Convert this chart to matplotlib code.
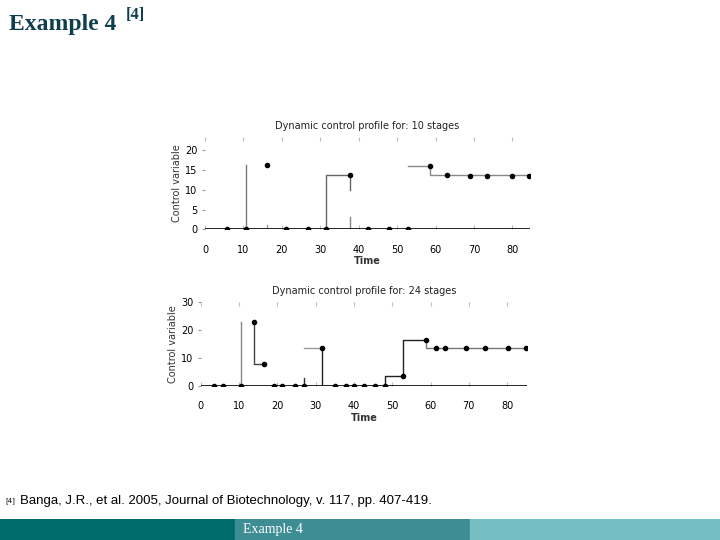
import matplotlib
matplotlib.use("Agg")
import matplotlib.pyplot as plt

# top panel: 10 stages
t1 = [5.8, 10.6, 16.2, 21.0, 26.8, 31.4, 37.7, 42.3, 48.0, 52.8, 58.6, 63.1, 69.0, 73.5, 79.8, 84.2]
u1 = [0, 0, 16.3, 0, 0, 0, 13.7, 0, 0, 0, 16.0, 13.8, 13.5, 13.5, 13.5, 13.5]
# profile segments (x list, y list, colour)
lines1 = [
    ([10.6, 10.6], [0, 16.3], "#777777"),
    ([16.2, 16.2], [0, 1.2], "#999999"),
    ([31.4, 31.4, 37.7, 37.7], [0, 13.7, 13.7, 10.0], "#666666"),
    ([37.7, 37.7], [0, 3.0], "#888888"),
    ([52.8, 58.6, 58.6, 84.2], [16.0, 16.0, 13.8, 13.8], "#888888"),
]

# bottom panel: 24 stages
t2 = [3.4, 5.8, 10.6, 13.9, 16.5, 19.0, 21.2, 24.5, 26.9, 31.6, 35.0, 37.8, 40.1, 42.5,
      45.6, 48.2, 52.9, 58.9, 61.4, 63.7, 69.3, 74.1, 80.2, 84.8]
u2 = [0, 0, 0, 23.0, 7.7, 0, 0, 0, 0, 13.7, 0, 0, 0, 0,
      0, 0, 3.6, 16.3, 13.7, 13.7, 13.7, 13.7, 13.7, 13.7]
lines2 = [
    ([10.6, 10.6], [0, 23.0], "#888888"),
    ([13.9, 13.9, 16.5], [23.0, 8.0, 8.0], "#444444"),
    ([26.9, 26.9], [0, 3.0], "#333333"),
    ([26.9, 31.6], [13.7, 13.7], "#999999"),
    ([31.6, 31.6], [0, 13.7], "#222222"),
    ([48.2, 48.2, 52.9, 52.9, 58.9], [0, 3.6, 3.6, 16.3, 16.3], "#222222"),
    ([58.9, 58.9, 84.8], [16.3, 13.7, 13.7], "#777777"),
]

fig = plt.figure(figsize=(7.2, 5.4), dpi=100)
fig.patch.set_facecolor("white")


def panel(rect, t, u, lines, xmax, ymax, yticks, title):
    ax = fig.add_axes(rect)
    for xs, ys, c in lines:
        ax.plot(xs, ys, color=c, lw=1)
    ax.axhline(0, color="black", lw=1.2)
    ax.plot(t, u, "o", color="black", ms=3)
    ax.set_xlim(0, xmax)
    ax.set_ylim(0, ymax)
    for s in ax.spines.values():
        s.set_visible(False)
    ax.set_xticks(range(0, 90, 10))
    ax.set_yticks(yticks)
    ax.tick_params(axis="x", length=0, labelsize=7, pad=11)
    ax.tick_params(axis="y", length=2, labelsize=7, color="#999999")
    ax.tick_params(axis="x", which="both", top=True, direction="in", length=3, color="#bbbbbb")
    ax.set_xlabel("Time", fontsize=7, labelpad=1, fontweight="bold", color="#333333")
    ax.set_ylabel("Control variable", fontsize=7, labelpad=2, color="#333333")
    ax.set_title(title, fontsize=7, pad=6, color="#222222")
    return ax


panel([0.2847, 0.5754, 0.451, 0.171], t1, u1, lines1, 84.5, 23.4,
      [0, 5, 10, 15, 20], "Dynamic control profile for: 10 stages")
panel([0.279, 0.285, 0.453, 0.156], t2, u2, lines2, 85.2, 30,
      [0, 10, 20, 30], "Dynamic control profile for: 24 stages")

fig.text(0.012, 0.955, "Example 4", fontsize=17, fontweight="bold",
         family="Liberation Serif", color="#0f3f4f", va="center")
fig.text(0.174, 0.972, "[4]", fontsize=12, fontweight="bold",
         family="Liberation Serif", color="#0f3f4f", va="center")
fig.text(0.008, 0.073, "[4]", fontsize=5, va="center")
fig.text(0.028, 0.072, "Banga, J.R., et al. 2005, Journal of Biotechnology, v. 117, pp. 407-419.",
         fontsize=9.5, va="center", family="Liberation Sans")

# bottom bar
bar = fig.add_axes([0, 0, 1, 21 / 540])
bar.set_xlim(0, 720)
bar.set_ylim(0, 1)
bar.axis("off")
bar.axvspan(0, 235, color="#006b6b")
bar.axvspan(235, 470, color="#3e8c94")
bar.axvspan(470, 720, color="#75bfc4")
bar.text(243, 0.5, "Example 4", color="white", fontsize=10, family="Liberation Serif", va="center")

fig.savefig("out.png", dpi=100)
